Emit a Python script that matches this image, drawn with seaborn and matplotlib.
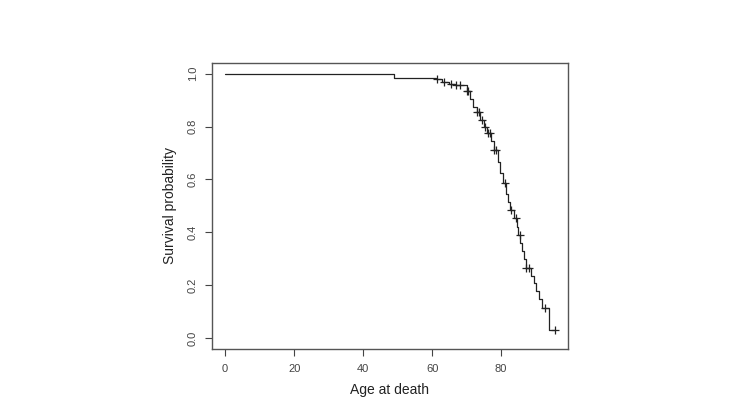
import numpy as np
import pandas as pd
import matplotlib
matplotlib.use('Agg')
import matplotlib.pyplot as plt
import seaborn as sns

# Kaplan-Meier step curve
step_times = [0, 49, 61, 63, 65, 66.5, 70, 71, 72, 73, 74, 75, 76, 77, 78, 79, 79.7,
              80.5, 81.5, 82, 82.7, 83.7, 84.5, 85, 85.6, 86, 86.6, 87.2, 88.7, 89.5,
              90.2, 91, 91.8, 94]
step_surv = [1.0, 0.985, 0.978, 0.97, 0.962, 0.955, 0.935, 0.905, 0.875, 0.855, 0.825,
             0.80, 0.775, 0.745, 0.71, 0.665, 0.625, 0.585, 0.545, 0.515, 0.485, 0.455,
             0.42, 0.39, 0.36, 0.33, 0.30, 0.265, 0.235, 0.21, 0.18, 0.15, 0.115, 0.03]
end_time = 95.6

# censored observations (plus marks)
censor_times = [61.5, 63.5, 65.5, 67, 68, 70, 70.5, 73, 73.5, 74.5, 75.3, 76.2, 76.8,
                78, 78.4, 81, 83, 84.2, 85.5, 87.3, 88.2, 92.7, 95.6]

sns.set_style('white')
plt.rcParams['font.family'] = ['Liberation Sans', 'DejaVu Sans']

curve = pd.DataFrame({'time': step_times + [end_time],
                      'surv': step_surv + [step_surv[-1]]})
idx = np.searchsorted(step_times, censor_times, side='right') - 1
censored = pd.DataFrame({'time': censor_times,
                         'surv': [step_surv[i] for i in idx]})

fig = plt.figure(figsize=(7.55, 4.17), dpi=100)
ax = fig.add_axes([0.2808, 0.1631, 0.4715, 0.6859])

sns.lineplot(data=curve, x='time', y='surv', drawstyle='steps-post',
             color='#222222', linewidth=0.9, ax=ax, sort=False, estimator=None)
sns.scatterplot(data=censored, x='time', y='surv', marker='+', s=35,
                color='#222222', linewidth=0.9, ax=ax)

ax.set_xlim(-3.82, 99.4)
ax.set_ylim(-0.04, 1.04)
ax.set_xticks([0, 20, 40, 60, 80])
ax.set_yticks([0.0, 0.2, 0.4, 0.6, 0.8, 1.0])
ax.set_yticklabels(['0.0', '0.2', '0.4', '0.6', '0.8', '1.0'], rotation=90, va='center')
ax.tick_params(axis='both', direction='out', length=5, width=0.8, color='#444444',
               labelsize=8, labelcolor='#444444', left=True, bottom=True)
ax.tick_params(axis='x', pad=6)
ax.tick_params(axis='y', pad=5)
for s in ax.spines.values():
    s.set_color('#555555')
    s.set_linewidth(1.0)

ax.set_xlabel('Age at death', fontsize=10, color='#222222', labelpad=6)
ax.set_ylabel('Survival probability', fontsize=10, color='#222222', labelpad=8)

fig.savefig('out.png', dpi=100, facecolor='white')
